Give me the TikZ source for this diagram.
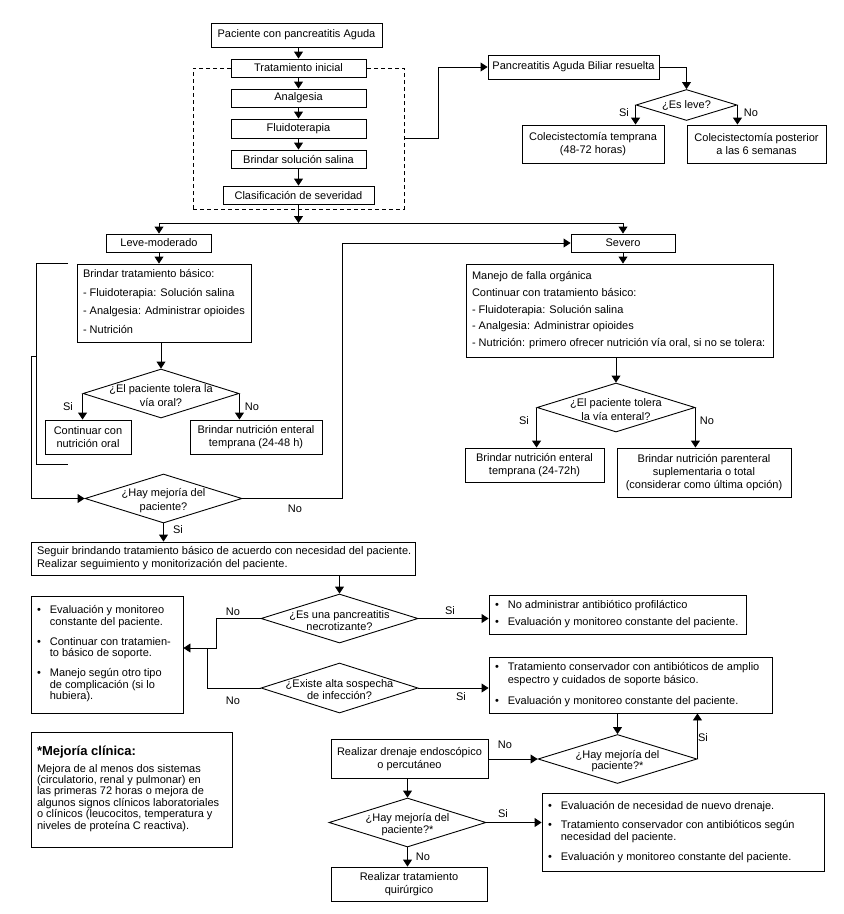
\documentclass[tikz,border=0pt]{standalone}
\usepackage{fontspec}
\setmainfont{Liberation Sans}
\usetikzlibrary{shapes.geometric, arrows.meta}
\newcommand\fs{\fontsize{11}{12.65}\selectfont}
\newcommand\lft[2]{\makebox[#1][l]{\hspace*{6pt}#2}}
\newcommand\bl{\textbullet}
\begin{document}
\begin{tikzpicture}[x=1pt, y=-1pt,
  box/.style={draw, fill=white, line width=0.9pt, inner sep=0pt, align=center, font=\fs},
  dia/.style={diamond, draw, fill=white, line width=0.9pt, inner sep=0pt},
  dtext/.style={align=center, inner sep=0pt, font=\fs, yshift=-2pt},
  lab/.style={inner sep=0pt, font=\fs},
  arr/.style={line width=0.9pt, -{Triangle[width=9pt,length=7pt]}},
  ln/.style={line width=0.9pt},
  grp/.style={draw, dash pattern=on 4pt off 3pt, line width=0.9pt, inner sep=0pt}]
\path[fill=white, use as bounding box] (0,0) rectangle (844,914);

% ---------- initial treatment ----------
\node[grp, minimum width=211pt, minimum height=141pt] (grp) at (298.5,138.5) {};
\node[box, minimum width=171pt, minimum height=24pt] (pac) at (296.5,35) {Paciente con pancreatitis Aguda};
\node[box, minimum width=135pt, minimum height=18pt] (tin) at (298.5,68) {Tratamiento inicial};
\node[box, minimum width=135pt, minimum height=18pt] (ana) at (298.5,98) {Analgesia};
\node[box, minimum width=135pt, minimum height=19pt] (flu) at (298.5,128.5) {Fluidoterapia};
\node[box, minimum width=135pt, minimum height=18pt] (sol) at (298.5,159) {Brindar solución salina};
\node[box, minimum width=151pt, minimum height=18pt] (cla) at (298.5,195) {Clasificación de severidad};
\draw[arr] (tin.north |- pac.south) -- (tin.north);
\draw[arr] (tin) -- (ana);
\draw[arr] (ana) -- (flu);
\draw[arr] (flu) -- (sol);
\draw[arr] (sol) -- (cla);
\coordinate (split) at (298.5,223);
\draw[arr] (cla) -- (split);

% ---------- biliar ----------
\node[box, minimum width=171pt, minimum height=24pt] (pab) at (573.5,67) {Pancreatitis Aguda Biliar resuelta};
\draw[arr] (grp.east) -- ++(34,0) |- (pab.west);
\node[dia, minimum width=101pt, minimum height=31pt] (esl) at (686.5,105) {};
\node[dtext, yshift=2pt] at (esl) {¿Es leve?};
\draw[arr] (pab.east) -| (esl.north);
\node[box, minimum width=142pt, minimum height=38pt] (co1) at (593,144) {Colecistectomía temprana\\(48-72 horas)};
\node[box, minimum width=139pt, minimum height=38pt] (co2) at (756.5,144) {Colecistectomía posterior\\a las 6 semanas};
\draw[arr] (esl.west) -- (esl.west |- co1.north);
\draw[arr] (esl.east) -- (esl.east |- co2.north);
\node[lab] at (624,113) {Si};
\node[lab] at (751,113) {No};

% ---------- leve-moderado ----------
\node[box, minimum width=105pt, minimum height=18pt] (leve) at (159,243) {Leve-moderado};
\node[box, minimum width=104pt, minimum height=18pt] (sev) at (623,243) {Severo};
\draw[arr] (split) -| (leve.north);
\draw[arr] (split) -| (sev.north);
\node[box, minimum width=174pt, minimum height=78pt] (btb) at (164,303) {\lft{174pt}{\begin{tabular}{@{}l@{}}Brindar tratamiento básico:\\[6pt] - Fluidoterapia: Solución salina\\[6pt] - Analgesia: Administrar opioides\\[6pt] - Nutrición\end{tabular}}};
\draw[arr] (leve) -- (leve |- btb.north);
\node[dia, minimum width=156pt, minimum height=49pt] (dor) at (161,393.5) {};
\node[dtext, font=\fontsize{11}{14}\selectfont] at (dor) {¿El paciente tolera la\\vía oral?};
\draw[arr] (dor.north |- btb.south) -- (dor.north);
\node[box, minimum width=86pt, minimum height=34pt] (cno) at (88,437) {Continuar con\\nutrición oral};
\node[box, minimum width=132pt, minimum height=34pt] (bn1) at (256,437) {Brindar nutrición enteral\\temprana (24-48 h)};
\draw[arr] (dor.west) -- (dor.west |- cno.north);
\draw[arr] (dor.east) -- (dor.east |- bn1.north);
\node[lab] at (68,407) {Si};
\node[lab] at (252,407) {No};

% bracket
\coordinate (bt) at (68,263);
\coordinate (bb) at (68,464);
\coordinate (bj) at (36,356);
\draw[ln] (bt) -- (36,263) -- (36,464) -- (bb);

\node[dia, minimum width=157pt, minimum height=49pt] (dmej) at (163.5,498.5) {};
\node[dtext, font=\fontsize{11}{14.5}\selectfont] at (dmej) {¿Hay mejoría del\\paciente?};
\draw[arr] (bj) -- (31,356) |- (dmej.west);
\draw[arr] (dmej.east) -- (342,498.5) |- (sev.west);
\node[lab] at (295,509) {No};

\node[box, minimum width=384pt, minimum height=33pt] (seg) at (223,558.5) {\lft{384pt}{\begin{tabular}{@{}l@{}}Seguir brindando tratamiento básico de acuerdo con necesidad del paciente.\\ Realizar seguimiento y monitorización del paciente.\end{tabular}}};
\draw[arr] (dmej.south) -- (dmej.south |- seg.north);
\node[lab] at (178,530) {Si};

% ---------- severo ----------
\node[box, minimum width=307pt, minimum height=93pt] (man) at (619.5,310.5) {\lft{307pt}{\begin{tabular}{@{}l@{}}Manejo de falla orgánica\\[4pt] Continuar con tratamiento básico:\\[4pt] - Fluidoterapia: Solución salina\\[4pt] - Analgesia: Administrar opioides\\[4pt] - Nutrición: primero ofrecer nutrición vía oral, si no se tolera:\end{tabular}}};
\draw[arr] (sev) -- (sev |- man.north);
\node[dia, minimum width=158pt, minimum height=49pt] (den) at (616,407.5) {};
\node[dtext, font=\fontsize{11}{14}\selectfont] at (den) {¿El paciente tolera\\la vía enteral?};
\draw[arr] (den.north |- man.south) -- (den.north);
\node[box, minimum width=139pt, minimum height=34pt] (bn2) at (534.5,465) {Brindar nutrición enteral\\temprana (24-72h)};
\node[box, minimum width=174pt, minimum height=49pt] (bnp) at (704,472.5) {Brindar nutrición parenteral\\suplementaria o total\\(considerar como última opción)};
\draw[arr] (den.west) -- (den.west |- bn2.north);
\draw[arr] (den.east) -- (den.east |- bnp.north);
\node[lab] at (524,421) {Si};
\node[lab] at (707,421) {No};

% ---------- necrotizante / infeccion ----------
\node[dia, minimum width=157pt, minimum height=49pt] (dnec) at (339.5,618.5) {};
\node[dtext, font=\fontsize{11}{12}\selectfont] at (dnec) {¿Es una pancreatitis\\necrotizante?};
\draw[arr] (dnec.north |- seg.south) -- (dnec.north);
\node[box, minimum width=152pt, minimum height=117pt] (evl) at (107,654.5) {\lft{152pt}{\fontsize{11}{11.7}\selectfont\begin{tabular}{@{}l@{\hspace{9pt}}l@{}}\bl & Evaluación y monitoreo\\ & constante del paciente.\\[8pt] \bl & Continuar con tratamien-\\ & to básico de soporte.\\[8pt] \bl & Manejo según otro tipo\\ & de complicación (si lo\\ & hubiera).\end{tabular}}};
\coordinate (jn) at (216,648);
\coordinate (jn2) at (207,648);
\draw[arr] (dnec.west) -| (jn) -- (jn -| evl.east);
\node[dia, minimum width=157pt, minimum height=50pt] (dinf) at (339.5,688) {};
\node[dtext, font=\fontsize{11}{12}\selectfont] at (dinf) {¿Existe alta sospecha\\de infección?};
\draw[ln] (dinf.west) -| (jn2);
\node[lab] at (233,612) {No};
\node[lab] at (233,701) {No};
\node[box, minimum width=257pt, minimum height=39pt] (noa) at (617.5,614.5) {\lft{257pt}{\begin{tabular}{@{}l@{\hspace{9pt}}l@{}}\bl & No administrar antibiótico profiláctico\\[3.5pt] \bl & Evaluación y monitoreo constante del paciente.\end{tabular}}};
\draw[arr] (dnec.east) -- (dnec.east -| noa.west);
\node[box, minimum width=283pt, minimum height=56pt] (tco) at (630.5,685) {\lft{283pt}{\begin{tabular}{@{}l@{\hspace{9pt}}l@{}}\bl & Tratamiento conservador con antibióticos de amplio\\ & espectro y cuidados de soporte básico.\\[8pt] \bl & Evaluación y monitoreo constante del paciente.\end{tabular}}};
\draw[arr] (dinf.east) -- (dinf.east -| tco.west);
\node[lab] at (450,611) {Si};
\node[lab] at (461,697) {Si};

% ---------- drenaje ----------
\node[dia, minimum width=159pt, minimum height=49pt] (dm2) at (617.5,759) {};
\node[dtext, font=\fontsize{11}{11.5}\selectfont] at (dm2) {¿Hay mejoría del\\paciente?*};
\draw[arr] (dm2.north |- tco.south) -- (dm2.north);
\draw[arr] (dm2.east) -- (dm2.east |- tco.south);
\node[lab] at (703,738) {Si};
\node[box, minimum width=157pt, minimum height=39pt] (dre) at (409.5,759) {Realizar drenaje endoscópico\\o percutáneo};
\draw[arr] (dre.east) -- (dm2.west);
\node[lab] at (505,745) {No};
\node[dia, minimum width=157pt, minimum height=49pt] (dm3) at (407.5,822.5) {};
\node[dtext, font=\fontsize{11}{11.5}\selectfont] at (dm3) {¿Hay mejoría del\\paciente?*};
\draw[arr] (dm3.north |- dre.south) -- (dm3.north);
\node[box, minimum width=156pt, minimum height=34pt] (qui) at (409,884) {Realizar tratamiento\\quirúrgico};
\draw[arr] (dm3.south) -- (dm3.south |- qui.north);
\node[lab] at (423,857) {No};
\node[box, minimum width=282pt, minimum height=78pt] (evr) at (683,832) {\lft{282pt}{\begin{tabular}{@{}l@{\hspace{9pt}}l@{}}\bl & Evaluación de necesidad de nuevo drenaje.\\[6.5pt] \bl & Tratamiento conservador con antibióticos según\\ & necesidad del paciente.\\[6.5pt] \bl & Evaluación y monitoreo constante del paciente.\end{tabular}}};
\draw[arr] (dm3.east) -- (dm3.east -| evr.west);
\node[lab] at (503,814) {Si};

% ---------- note ----------
\node[box, minimum width=201pt, minimum height=115pt] (mej) at (131.5,789.5) {\lft{201pt}{\fontsize{11}{11.2}\selectfont\begin{tabular}{@{}l@{}}{\fontsize{13}{15}\selectfont\bfseries *Mejoría clínica:}\\[5pt] Mejora de al menos dos sistemas\\ (circulatorio, renal y pulmonar) en\\ las primeras 72 horas o mejora de\\ algunos signos clínicos laboratoriales\\ o clínicos (leucocitos, temperatura y\\ niveles de proteína C reactiva).\end{tabular}}};
\end{tikzpicture}
\end{document}
